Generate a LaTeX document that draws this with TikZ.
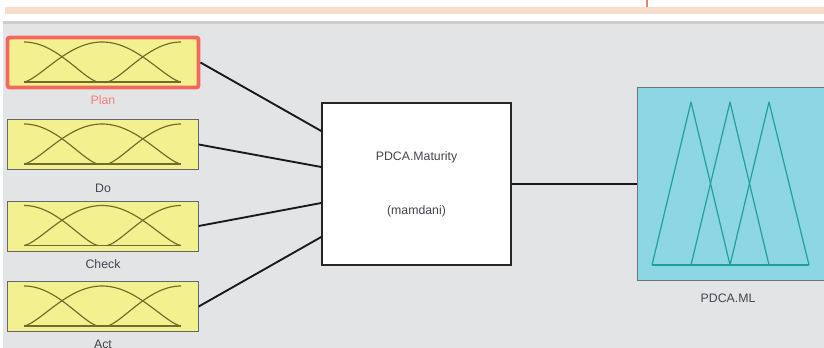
\documentclass[tikz,border=0pt]{standalone}
\usepackage{fontspec}
\setmainfont{Liberation Sans}
\definecolor{screen}{HTML}{E3E4E6}
\definecolor{peach}{HTML}{F9DDCC}
\definecolor{tick}{HTML}{E58660}
\definecolor{mfyellow}{HTML}{F3F18F}
\definecolor{mfline}{HTML}{6F6C2C}
\definecolor{planred}{HTML}{F2685C}
\definecolor{outcyan}{HTML}{8DD6E4}
\definecolor{outline}{HTML}{1F9F9A}
\definecolor{txtgray}{HTML}{44454E}
\tikzset{
  inbox/.style={draw=black!60, fill=mfyellow, minimum width=5.73cm, minimum height=1.5cm, inner sep=0pt},
  mf/.style={mfline, line width=1pt, line join=round},
  tri/.style={outline, line width=1pt, line join=round},
  lbl/.style={text=txtgray, font=\fontsize{10.5}{12}\selectfont},
  wire/.style={black!90, line width=1.6pt},
}
\begin{document}
\begin{tikzpicture}[x=0.03cm, y=-0.03cm]
  \useasboundingbox (0,0) rectangle (824,348);
  \clip (0,0) rectangle (824,348);
  % window background
  \fill [white] (0,0) rectangle (824,348);
  \fill [peach] (5,7) rectangle (824,14);
  \draw [tick, line width=1.5pt] (647,0) -- (647,7);
  \fill [black!20] (3,21) rectangle (824,24);
  \fill [screen] (3,24) rectangle (824,348);

  % input variables
  \node [inbox, draw=planred, line width=3.4pt, rounded corners=2pt] (plan) at (103, 62.5) {};
  \foreach \n/\y in {do/144.5, check/226, act/306.5} {
    \node [inbox] (\n) at (103, \y) {};
  }
  \node [lbl, text=planred!85] (planlbl) at (103, 100) {Plan};
  \node [lbl] (dolbl) at (103, 188) {Do};
  \node [lbl] (checklbl) at (103, 264) {Check};
  \node [lbl] (actlbl) at (103, 344) {Act};

  % membership functions
  \foreach \y in {62.5, 144.5, 226, 306.5} {
    \draw [mf] (24, \y+19.5) -- (181, \y+19.5);
    \draw [mf] plot [domain=0:1, samples=25] ({24+74*\x}, {\y-20.5+40*(1-(1-\x*\x)*sqrt(abs(1-\x*\x)))});
    \draw [mf] plot [domain=1:0, samples=25] ({102-78*\x}, {\y-20.5+40*(1-(1-\x*\x)*sqrt(abs(1-\x*\x)))})
      -- plot [domain=0:1, samples=25] ({102+79*\x}, {\y-20.5+40*(1-(1-\x*\x)*sqrt(abs(1-\x*\x)))});
    \draw [mf] plot [domain=0:1, samples=25] ({181-74*\x}, {\y-20.5+40*(1-(1-\x*\x)*sqrt(abs(1-\x*\x)))});
  }

  % rule block and output
  \node [lbl, draw=black!85, fill=white, line width=1.3pt, minimum width=5.67cm, minimum height=4.86cm,
    align=center] (fis) at (416.5, 184) {PDCA.Maturity\\[34pt](mamdani)};
  \node [draw=black!55, fill=outcyan, minimum width=6cm, minimum height=5.79cm, inner sep=0pt] (ml) at (737, 183.5) {};
  \node [lbl] (mllbl) at (728, 298) {PDCA.ML};
  \draw [tri] (652,265) -- (809,265);
  \draw [tri] (652,265) -- (691,102) -- (730,265);
  \draw [tri] (691,265) -- (730,102) -- (769,265);
  \draw [tri] (730,265) -- (769,102) -- (809,265);

  % connections
  \draw [wire] (plan.east) -- (fis.west |- 0,131);
  \draw [wire] (do.east) -- (fis.west |- 0,167);
  \draw [wire] (check.east) -- (fis.west |- 0,203);
  \draw [wire] (act.east) -- (fis.west |- 0,237);
  \draw [wire] (fis.east) -- (ml.west |- fis.east);
\end{tikzpicture}
\end{document}
